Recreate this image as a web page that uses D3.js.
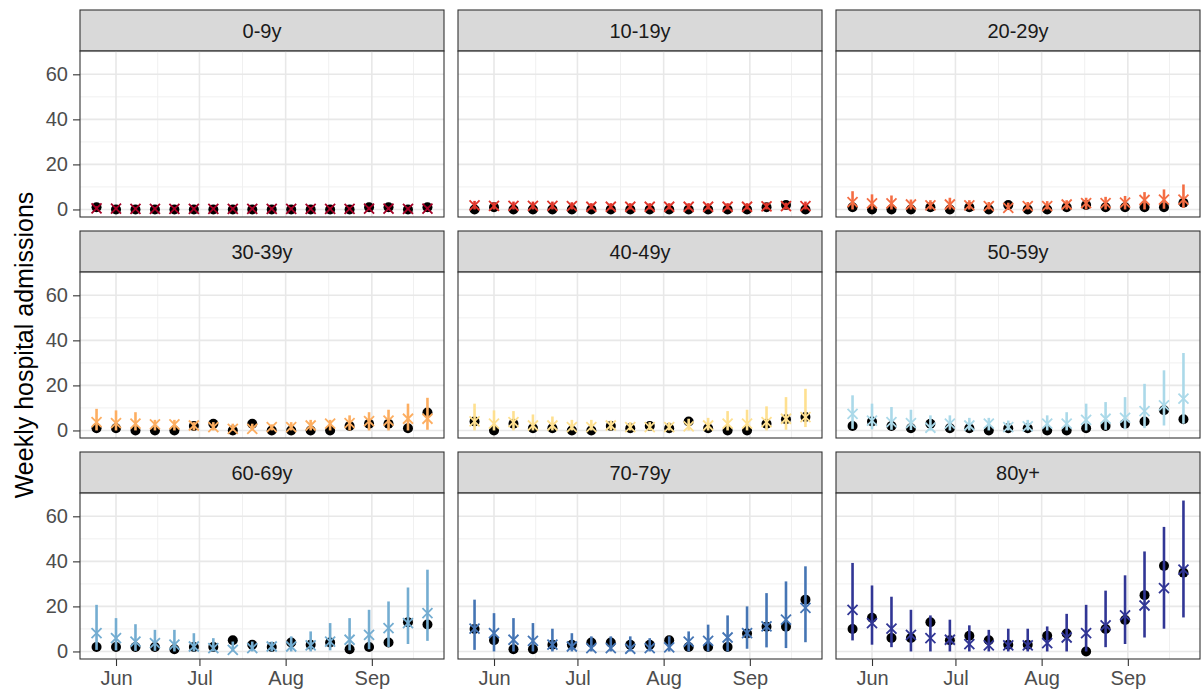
<!DOCTYPE html>
<html>
<head>
<meta charset="utf-8">
<script src="https://cdnjs.cloudflare.com/ajax/libs/d3/7.8.5/d3.min.js"></script>
<style>
  body { margin: 0; background: #fff; }
  text { font-family: "Liberation Sans", Arial, sans-serif; }
</style>
</head>
<body>
<div id="chart"></div>
<script>
// age groups, one facet each
var ageGroups = ["0-9y", "10-19y", "20-29y", "30-39y", "40-49y", "50-59y", "60-69y", "70-79y", "80y+"];
var colours = ["#a50026", "#e0362b", "#f46d43", "#fdae61", "#fee090", "#abd9e9", "#74add1", "#4575b4", "#313695"];

// weeks (start dates)
var weekStarts = ["2020-05-25", "2020-06-01", "2020-06-08", "2020-06-15", "2020-06-22", "2020-06-29",
  "2020-07-06", "2020-07-13", "2020-07-20", "2020-07-27", "2020-08-03", "2020-08-10",
  "2020-08-17", "2020-08-24", "2020-08-31", "2020-09-07", "2020-09-14", "2020-09-21"];

// observed weekly admissions (black dots)
var observed = [
  [1, 0, 0, 0, 0, 0, 0, 0, 0, 0, 0, 0, 0, 0, 1, 1, 0, 1],
  [0, 1, 0, 0, 0, 0, 0, 0, 0, 0, 0, 0, 0, 0, 0, 1, 2, 0],
  [1, 0, 0, 0, 1, 0, 1, 0, 2, 0, 0, 1, 2, 1, 1, 1, 1, 3],
  [1, 1, 0, 0, 0, 2, 3, 0, 3, 0, 0, 0, 0, 2, 3, 3, 1, 8],
  [4, 0, 3, 1, 1, 0, 0, 2, 1, 2, 1, 4, 1, 0, 0, 3, 5, 6],
  [2, 4, 2, 1, 3, 1, 1, 0, 1, 1, 0, 0, 1, 2, 3, 4, 9, 5],
  [2, 2, 2, 2, 1, 2, 2, 5, 3, 2, 4, 3, 4, 1, 2, 4, 13, 12],
  [10, 5, 1, 1, 3, 3, 4, 4, 3, 3, 5, 2, 2, 2, 8, 11, 11, 23],
  [10, 15, 6, 6, 13, 5, 7, 5, 3, 3, 7, 8, 0, 10, 14, 25, 38, 35]
];

// model estimate (crosses)
var estimate = [
  [0.5, 0.4, 0.3, 0.3, 0.3, 0.3, 0.3, 0.3, 0.3, 0.3, 0.3, 0.3, 0.3, 0.3, 0.4, 0.4, 0.3, 0.4],
  [1.8, 1.6, 1.6, 1.6, 1.6, 1.5, 1.2, 1.2, 1.2, 1.2, 1.2, 1.2, 1.2, 1.2, 1.2, 1.4, 1.5, 1.5],
  [3.3, 2.7, 2.7, 2.2, 1.8, 2.2, 1.8, 1.5, 0.7, 1.5, 1.5, 2.2, 2.8, 2.8, 3, 4.2, 4.4, 4.4],
  [3.7, 3.3, 3, 2.7, 2.7, 2.2, 1.5, 0.7, 0.7, 1.5, 1.5, 2.2, 3, 3.3, 4.1, 4.4, 5.2, 5.2],
  [4, 3, 3.7, 2.2, 2.2, 1.5, 1.5, 2.2, 1.5, 1.5, 1.5, 1.8, 2.2, 3, 3, 3.7, 5.2, 5.9],
  [7.4, 4.4, 3.7, 3.3, 1.2, 3, 2.2, 3, 1.5, 1.8, 3, 3, 4.7, 5.2, 5.6, 8.6, 11.1, 14.1],
  [8.1, 5.9, 4.4, 3.7, 3, 2.2, 1.5, 0.7, 1.5, 2.2, 2.2, 2.7, 4.4, 5.2, 7.4, 10.4, 12.6, 17],
  [10.1, 8.1, 5.2, 4.7, 3, 2.2, 1.5, 1.5, 1.2, 1.5, 1.8, 4.4, 4.7, 6.2, 8.1, 11.1, 14.1, 19.3],
  [18.5, 12.6, 10.1, 7.4, 5.9, 5.2, 3.3, 2.7, 2.7, 2.7, 3.7, 6.2, 8.1, 11.6, 16, 20.4, 28.1, 36.3]
];

// interval bounds (vertical bars)
var lower = [
  [0, 0, 0, 0, 0, 0, 0, 0, 0, 0, 0, 0, 0, 0, 0, 0, 0, 0],
  [0, 0, 0, 0, 0, 0, 0, 0, 0, 0, 0, 0, 0, 0, 0, 0, 0, 0],
  [0, 0, 0, 0, 0, 0, 0, 0, 0, 0, 0, 0, 0, 0, 0, 0, 0.3, 0.7],
  [0, 0, 0, 0, 0, 0, 0, 0, 0, 0, 0, 0, 0, 0, 0, 0, 0, 0.3],
  [0, 0, 0, 0, 0, 0, 0, 0, 0, 0, 0, 0, 0, 0, 0, 0, 0.3, 1.5],
  [0.7, 0.5, 0.3, 0.2, 0, 0, 0, 0, 0, 0, 0, 0, 0, 0.3, 0.5, 1, 2.2, 3],
  [0.7, 0.5, 0.3, 0.3, 0, 0, 0, 0, 0, 0, 0, 0, 0.5, 0.5, 1, 2, 3.3, 4.7],
  [0.7, 0, 0, 0, 0, 0, 0, 0, 0, 0, 0, 0, 0, 0, 1.2, 1.8, 1.5, 4.1],
  [4.9, 3, 1.9, 0, 0, 0, 0, 0, 0, 0, 0, 0, 0, 1.9, 3.3, 6.2, 10.1, 15.1]
];
var upper = [
  [1.5, 1.2, 1, 1, 1, 1, 1, 1, 1, 1, 1, 1, 1, 1, 1.2, 1.2, 1, 1.2],
  [3.8, 3.2, 3.5, 3.5, 3.5, 3.2, 2.8, 2.8, 2.8, 2.8, 2.8, 2.8, 2.8, 2.8, 2.8, 3, 3, 3.5],
  [8.1, 6.7, 6.2, 4.4, 4.1, 5.2, 4.1, 3.3, 3, 3.3, 3.7, 4.1, 5.2, 5.6, 6, 7.7, 8.9, 11.1],
  [9.6, 8.9, 8.1, 4.7, 4.7, 3.7, 3.7, 3, 3, 2.7, 3.7, 4.7, 4.7, 6.7, 8.1, 9.2, 11.9, 14.5],
  [11.9, 8.9, 8.6, 7.1, 6.2, 4.7, 4.7, 4.4, 3.7, 3.7, 3.7, 5.2, 5.6, 8.6, 9.2, 10.7, 14.8, 18.5],
  [15.6, 11.9, 10.4, 9.2, 6.7, 6.7, 5.6, 5.6, 4.4, 4.7, 6.7, 8.1, 11.9, 12.6, 14.8, 20.7, 26.7, 34.4],
  [20.7, 14.8, 12.1, 9.6, 9.6, 8.1, 5.9, 4.4, 4.4, 4.4, 6.7, 8.9, 12.6, 14.8, 18.5, 22.2, 28.4, 36.3],
  [23, 17, 14.8, 12.6, 10.1, 8.1, 6.7, 6.7, 6.7, 5.9, 6.7, 8.9, 11.9, 16, 20, 25.9, 31.1, 37.8],
  [39.3, 29.3, 24.3, 18.5, 16, 14.1, 11.6, 9.6, 10.1, 10.1, 11.1, 16.7, 20.7, 27, 33.8, 44.4, 55.3, 67]
];

var yTicks = [0, 20, 40, 60];
var monthTicks = ["2020-06-01", "2020-07-01", "2020-08-01", "2020-09-01"];

// layout (note: "top" is a reserved window prop, so use marginTop)
var width = 1202, height = 692;
var marginLeft = 80, marginTop = 10;
var panelW = 364, stripH = 41, plotH = 166, gap = 14;

var parse = d3.utcParse("%Y-%m-%d");
var dates = weekStarts.map(parse);
var months = monthTicks.map(parse);

// ggplot style 5% expansion on both scales
var dExt = d3.extent(dates);
var dPad = (dExt[1] - dExt[0]) * 0.05;
var x = d3.scaleUtc()
  .domain([new Date(+dExt[0] - dPad), new Date(+dExt[1] + dPad)])
  .range([0, panelW]);

var yMax = d3.max(upper, function(r) { return d3.max(r); });
var yPad = yMax * 0.05;
var y = d3.scaleLinear()
  .domain([-yPad, yMax + yPad])
  .range([plotH, 0]);

// minor breaks sit half way between majors
var yMinor = [];
for (var i = 0; i < yTicks.length; i++) {
  var m = yTicks[i] + 10;
  if (m <= yMax + yPad) yMinor.push(m);
}
var xMinor = [];
for (var i = 0; i < months.length; i++) {
  var next = i < months.length - 1 ? months[i + 1] : d3.utcMonth.offset(months[i], 1);
  var mid = new Date((+months[i] + +next) / 2);
  if (mid < x.domain()[1]) xMinor.push(mid);
}

var svg = d3.select("#chart").append("svg")
  .attr("width", width)
  .attr("height", height);

svg.append("rect").attr("width", width).attr("height", height).attr("fill", "#fff");

ageGroups.forEach(function(age, k) {
  var col = k % 3, row = Math.floor(k / 3);
  var g = svg.append("g")
    .attr("transform", "translate(" + (marginLeft + col * (panelW + gap)) + "," + (marginTop + row * (stripH + plotH + gap)) + ")");

  // strip
  g.append("rect")
    .attr("x", 0).attr("y", 0)
    .attr("width", panelW).attr("height", stripH)
    .attr("fill", "#d9d9d9")
    .attr("stroke", "#333").attr("stroke-width", 1.1);
  g.append("text")
    .attr("x", panelW / 2).attr("y", stripH / 2)
    .attr("dy", "0.35em")
    .attr("text-anchor", "middle")
    .attr("font-size", 20)
    .attr("fill", "#1a1a1a")
    .text(age);

  var p = g.append("g").attr("transform", "translate(0," + stripH + ")");

  // grid
  p.selectAll(".ymin").data(yMinor).enter().append("line")
    .attr("x1", 0).attr("x2", panelW)
    .attr("y1", function(d) { return y(d); }).attr("y2", function(d) { return y(d); })
    .attr("stroke", "#f0f0f0").attr("stroke-width", 1);
  p.selectAll(".xmin").data(xMinor).enter().append("line")
    .attr("y1", 0).attr("y2", plotH)
    .attr("x1", function(d) { return x(d); }).attr("x2", function(d) { return x(d); })
    .attr("stroke", "#f0f0f0").attr("stroke-width", 1);
  p.selectAll(".ymaj").data(yTicks).enter().append("line")
    .attr("x1", 0).attr("x2", panelW)
    .attr("y1", function(d) { return y(d); }).attr("y2", function(d) { return y(d); })
    .attr("stroke", "#e8e8e8").attr("stroke-width", 1.6);
  p.selectAll(".xmaj").data(months).enter().append("line")
    .attr("y1", 0).attr("y2", plotH)
    .attr("x1", function(d) { return x(d); }).attr("x2", function(d) { return x(d); })
    .attr("stroke", "#e8e8e8").attr("stroke-width", 1.6);

  var pts = dates.map(function(d, j) {
    return {date: d, obs: observed[k][j], est: estimate[k][j], lo: lower[k][j], hi: upper[k][j]};
  });

  // observed
  p.selectAll(".obs").data(pts).enter().append("circle")
    .attr("cx", function(d) { return x(d.date); })
    .attr("cy", function(d) { return y(d.obs); })
    .attr("r", 5)
    .attr("fill", "#000");

  // intervals
  p.selectAll(".bar").data(pts).enter().append("line")
    .attr("x1", function(d) { return x(d.date); })
    .attr("x2", function(d) { return x(d.date); })
    .attr("y1", function(d) { return y(d.lo); })
    .attr("y2", function(d) { return y(d.hi); })
    .attr("stroke", colours[k])
    .attr("stroke-width", 2.6);

  // estimate crosses
  p.selectAll(".est").data(pts).enter().append("path")
    .attr("transform", function(d) { return "translate(" + x(d.date) + "," + y(d.est) + ")"; })
    .attr("d", "M-5,-5L5,5M-5,5L5,-5")
    .attr("stroke", colours[k])
    .attr("stroke-width", 1.8)
    .attr("fill", "none");

  // border
  p.append("rect")
    .attr("width", panelW).attr("height", plotH)
    .attr("fill", "none")
    .attr("stroke", "#333").attr("stroke-width", 1.1);

  // y axis on first column
  if (col == 0) {
    var ya = p.append("g").call(d3.axisLeft(y).tickValues(yTicks).tickSize(7).tickPadding(5));
    ya.select(".domain").remove();
    ya.selectAll("line").attr("stroke", "#333").attr("stroke-width", 1.1);
    ya.selectAll("text").attr("font-size", 20).attr("fill", "#4d4d4d")
      .style("font-family", '"Liberation Sans", Arial, sans-serif');
  }

  // x axis on bottom row
  if (row == 2) {
    var xa = p.append("g")
      .attr("transform", "translate(0," + plotH + ")")
      .call(d3.axisBottom(x).tickValues(months).tickFormat(d3.utcFormat("%b")).tickSize(7).tickPadding(5));
    xa.select(".domain").remove();
    xa.selectAll("line").attr("stroke", "#333").attr("stroke-width", 1.1);
    xa.selectAll("text").attr("font-size", 20).attr("fill", "#4d4d4d")
      .style("font-family", '"Liberation Sans", Arial, sans-serif');
  }
});

// y title
svg.append("text")
  .attr("transform", "translate(24,345) rotate(-90)")
  .attr("dy", "0.35em")
  .attr("text-anchor", "middle")
  .attr("font-size", 25)
  .attr("fill", "#000")
  .text("Weekly hospital admissions");
</script>
</body>
</html>
